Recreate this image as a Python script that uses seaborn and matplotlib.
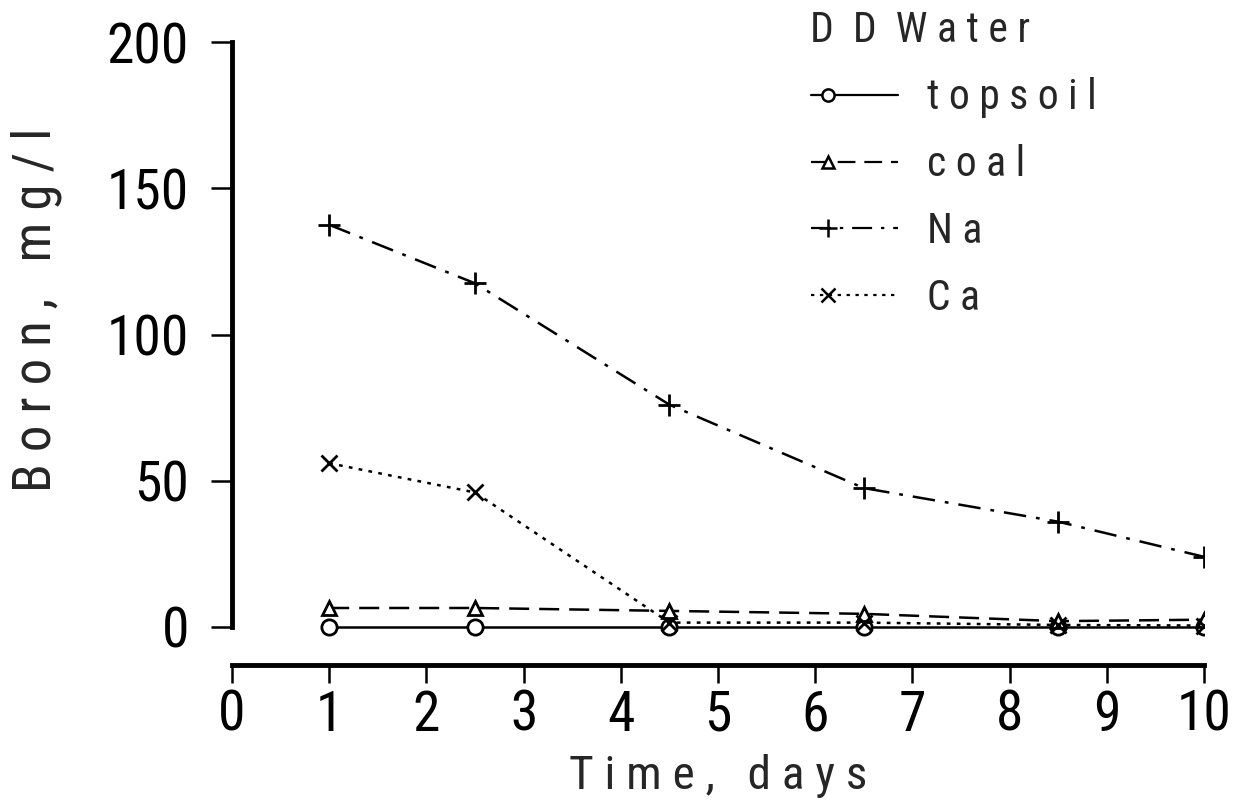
import matplotlib
matplotlib.use("Agg")
import matplotlib.pyplot as plt
import seaborn as sns
import pandas as pd
import numpy as np
from matplotlib.lines import Line2D
from matplotlib.legend_handler import HandlerLine2D
from matplotlib import font_manager

sns.set_style("white")
available = {f.name for f in font_manager.fontManager.ttflist}
fam = "DejaVu Sans"
for cand in ["Liberation Sans Narrow", "DejaVu Sans Condensed", "Roboto Condensed"]:
    if cand in available:
        fam = cand
        break
plt.rcParams['font.family'] = [fam, 'DejaVu Sans']

days = [1, 2.5, 4.5, 6.5, 8.5, 10]
topsoil = [0, 0, 0, 0, 0, 0]
coal = [6.5, 6.5, 5.5, 4.5, 2.0, 2.5]
na = [137.5, 117.5, 76, 47.5, 36, 24]
ca = [56, 46, 1.5, 1.5, 0.7, 0.5]

series_names = ["topsoil", "coal", "Na", "Ca"]
legend_labels = ["t o p s o i l", "c o a l", "N a", "C a"]
series_vals = [topsoil, coal, na, ca]
x_ticks = [0, 1, 2, 3, 4, 5, 6, 7, 8, 9, 10]
y_ticks = [0, 50, 100, 150, 200]

styles = {
    "topsoil": dict(ls="-", marker="o", mfc="white", ms=11),
    "coal": dict(ls=(0, (8, 4)), marker="^", mfc="white", ms=10),
    "Na": dict(ls=(0, (9, 4, 1.5, 4)), marker="+", mfc="black", ms=16),
    "Ca": dict(ls=(0, (1.5, 2.5)), marker="x", mfc="black", ms=12),
}

fig = plt.figure(figsize=(12.51, 8.11), dpi=100)
ax = fig.add_axes([232/1251, 1-665/811, 972/1251, (665-42)/811])

for name, vals in zip(series_names, series_vals):
    df = pd.DataFrame({"day": days, "val": vals})
    st = styles[name]
    sns.lineplot(data=df, x="day", y="val", ax=ax, color="black", lw=1.8,
                 linestyle=st["ls"], marker=st["marker"], markersize=st["ms"],
                 markerfacecolor=st["mfc"], markeredgecolor="black",
                 markeredgewidth=2.0, legend=False, zorder=3)

ax.set_xlim(0, 10)
ymin = -(665-627)/2.925
ax.set_ylim(ymin, 200)
ax.spines['top'].set_visible(False)
ax.spines['right'].set_visible(False)
ax.spines['left'].set_bounds(0, 200)
for s in ['left', 'bottom']:
    ax.spines[s].set_linewidth(3.5)
    ax.spines[s].set_color('black')
ax.set_xticks(x_ticks)
ax.set_yticks(y_ticks)
ax.set_xticklabels([str(t) for t in x_ticks])
ax.set_yticklabels([str(t) for t in y_ticks])
ax.tick_params(axis='both', direction='out', width=1.8, colors='black',
               labelsize=40, left=True, bottom=True)
ax.tick_params(axis='y', length=15, pad=16)
ax.tick_params(axis='x', length=13, pad=4)

ax.set_xlabel("T i m e ,   d a y s", fontsize=34)
ax.set_ylabel("B o r o n ,   m g / l", fontsize=38)
ax.xaxis.set_label_coords(0.5, -(754-665)/623)
ax.yaxis.set_label_coords((62-232)/972, (665-310)/623)


class LeftMarkerHandler(HandlerLine2D):
    def create_artists(self, legend, orig_handle, xdescent, ydescent,
                       width, height, fontsize, trans):
        artists = super().create_artists(legend, orig_handle, xdescent, ydescent,
                                         width, height, fontsize, trans)
        for a in artists:
            xd = np.asarray(a.get_xdata(), dtype=float)
            yd = np.asarray(a.get_ydata(), dtype=float)
            x0, x1 = xd.min(), xd.max()
            a.set_data([x0, x0 + 0.2 * (x1 - x0), x1], [yd[0]] * 3)
            a.set_markevery([1])
        return artists


handles = []
for name in series_names:
    st = styles[name]
    handles.append(Line2D([0, 1], [0, 0], color="black", lw=1.6, linestyle=st["ls"],
                          marker=st["marker"], markersize=st["ms"] * 0.8,
                          markerfacecolor=st["mfc"], markeredgecolor="black",
                          markeredgewidth=1.8))
leg = ax.legend(handles, legend_labels,
                title="D  D  W a t e r", loc="upper left",
                bbox_to_anchor=((773-232)/972, 1.0 + 69/623),
                frameon=False, fontsize=30, title_fontsize=30,
                handlelength=2.1, handletextpad=0.7, labelspacing=0.62,
                alignment='left', numpoints=1,
                handler_map={Line2D: LeftMarkerHandler()})

fig.savefig("out.png", dpi=100, facecolor="white")
